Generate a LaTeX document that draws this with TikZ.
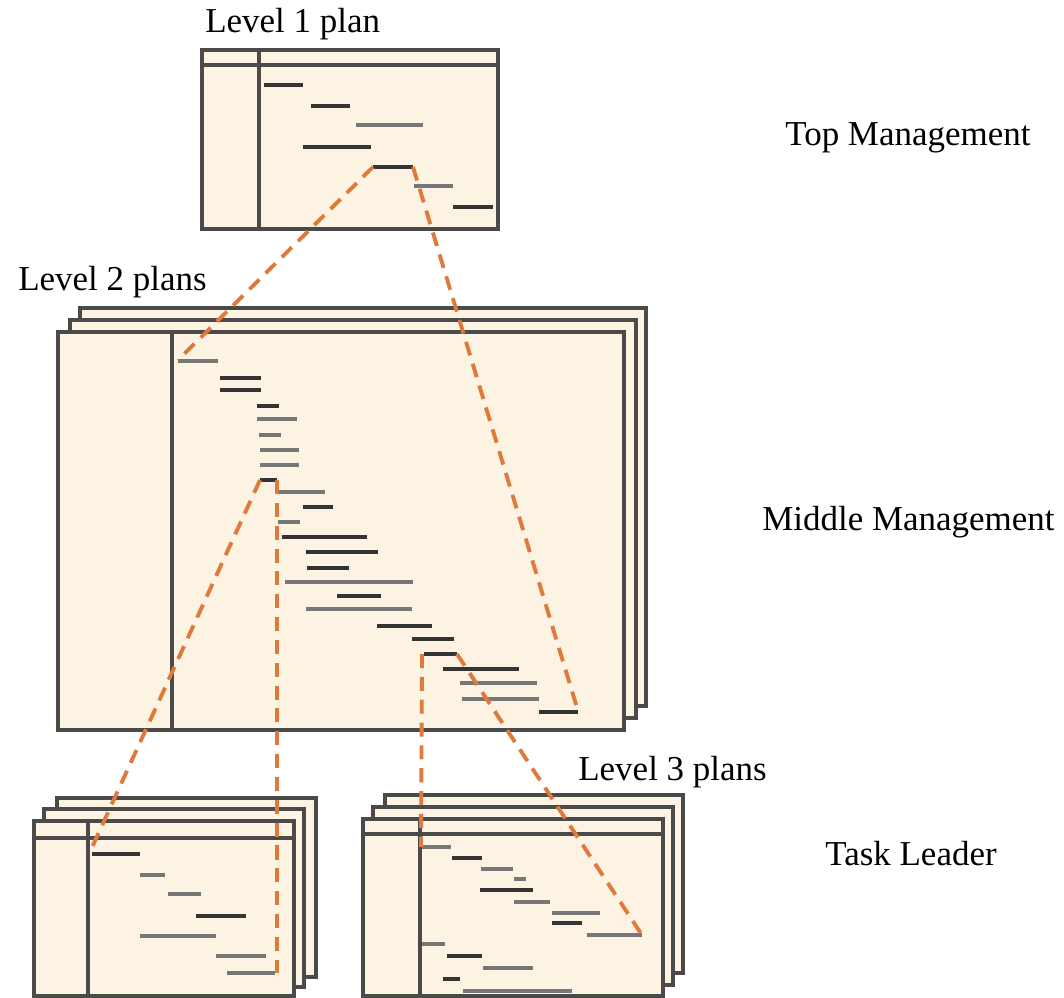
\documentclass[tikz,border=0pt]{standalone}
\usepackage{fontspec}
\setmainfont{Liberation Serif}
\usepackage{xcolor}
\usepackage{tikz}
\definecolor{plancream}{HTML}{FCF3E3}
\definecolor{planedge}{HTML}{4A4A4A}
\definecolor{bardark}{HTML}{343434}
\definecolor{bargray}{HTML}{777777}
\definecolor{linkorange}{HTML}{E07A3C}

\begin{document}
\begin{tikzpicture}[x=0.02cm, y=-0.02cm, font=\fontsize{19.9}{24}\selectfont,
    sheet/.style={fill=plancream, draw=planedge, line width=2pt},
    rule/.style={draw=planedge, line width=2pt},
    bar/.style={line width=2.3pt},
    link/.style={draw=linkorange, line width=2.2pt, dash pattern=on 8pt off 5pt},
    label/.style={anchor=base west, inner sep=0pt}]
  \useasboundingbox (0,0) rectangle (1064,997);

  \newcommand{\plansheet}[4]{%
    \draw[sheet] (#1,#2) rectangle (#3,#4);}
  \newcommand{\planbars}[1]{%
    \foreach \xa/\xb/\yy/\cc in {#1}
      \draw[bar, color=\cc] (\xa,\yy) -- (\xb,\yy);}

  \plansheet{202}{50}{498}{229}
  \draw[rule] (202,65) -- (498,65);
  \draw[rule] (259,50) -- (259,229);
  \planbars{264/303/85/bardark, 311/350/106/bardark, 356/423/125/bargray,
    303/371/147/bardark, 373/413/167/bardark, 414/453/186/bargray,
    453/493/207/bardark}

  \plansheet{80}{308}{646}{706}
  \plansheet{70}{320}{636}{718}
  \plansheet{58}{332}{624}{730}
  \draw[rule] (172,332) -- (172,730);
  \planbars{178/218/361/bargray, 220/261/378/bardark, 220/261/390/bardark,
    257/279/406/bardark, 257/297/419/bargray, 259/281/435/bargray,
    260/299/450/bargray, 260/299/465/bargray, 260/277/480/bardark,
    278/325/492/bargray, 303/333/507/bardark, 278/300/522/bargray,
    282/367/537/bardark, 306/378/552/bardark, 307/349/568/bardark,
    285/413/582/bargray, 337/381/596/bardark, 306/412/609/bargray,
    377/432/626/bardark, 412/454/639/bardark, 424/457/654/bardark,
    443/519/669/bardark, 460/537/683/bargray, 462/539/699/bargray,
    539/578/712/bardark}

  \plansheet{57}{798}{316}{977}
  \plansheet{44}{809}{304}{987}
  \plansheet{34}{821}{294}{996}
  \draw[rule] (34,838) -- (294,838);
  \draw[rule] (88,821) -- (88,996);
  \planbars{92/140/854/bardark, 140/165/875/bargray, 168/201/894/bargray,
    196/246/916/bardark, 140/216/936/bargray, 216/266/956/bargray,
    227/275/973/bargray}

  \plansheet{385}{795}{683}{973}
  \plansheet{373}{807}{673}{985}
  \plansheet{363}{819}{663}{996}
  \draw[rule] (363,834) -- (663,834);
  \draw[rule] (420,819) -- (420,996);
  \planbars{422/451/847/bargray, 452/482/858/bardark, 481/513/869/bargray,
    514/526/879/bargray, 480/533/890/bardark, 514/550/902/bargray,
    552/600/913/bargray, 552/582/923/bardark, 587/642/935/bargray,
    422/445/944/bargray, 447/482/956/bardark, 483/533/968/bargray,
    443/460/979/bardark, 463/572/991/bargray}

  \coordinate (topA) at (373,167);
  \coordinate (topB) at (413,167);
  \coordinate (midA) at (178,360);
  \coordinate (midB) at (578,711);
  \coordinate (midC) at (260,480);
  \coordinate (midD) at (277,480);
  \coordinate (midE) at (422,654);
  \coordinate (midF) at (457,654);
  \coordinate (lowA) at (89,854);
  \coordinate (lowB) at (277,973);
  \coordinate (lowC) at (421,847);
  \coordinate (lowD) at (642,935);

  \draw[link] (topA) -- (midA);
  \draw[link] (topB) -- (midB);
  \draw[link] (midC) -- (lowA);
  \draw[link] (midD) -- (lowB);
  \draw[link] (midE) -- (lowC);
  \draw[link] (midF) -- (lowD);

  \node[label] (lvlone) at (205,33) {Level 1 plan};
  \node[label] (lvltwo) at (18,290) {Level 2 plans};
  \node[label] (lvlthree) at (578,780) {Level 3 plans};
  \node[label] (topmgmt) at (785,145) {Top Management};
  \node[label] (midmgmt) at (762,530) {Middle Management};
  \node[label] (taskldr) at (825,865) {Task Leader};
\end{tikzpicture}
\end{document}
